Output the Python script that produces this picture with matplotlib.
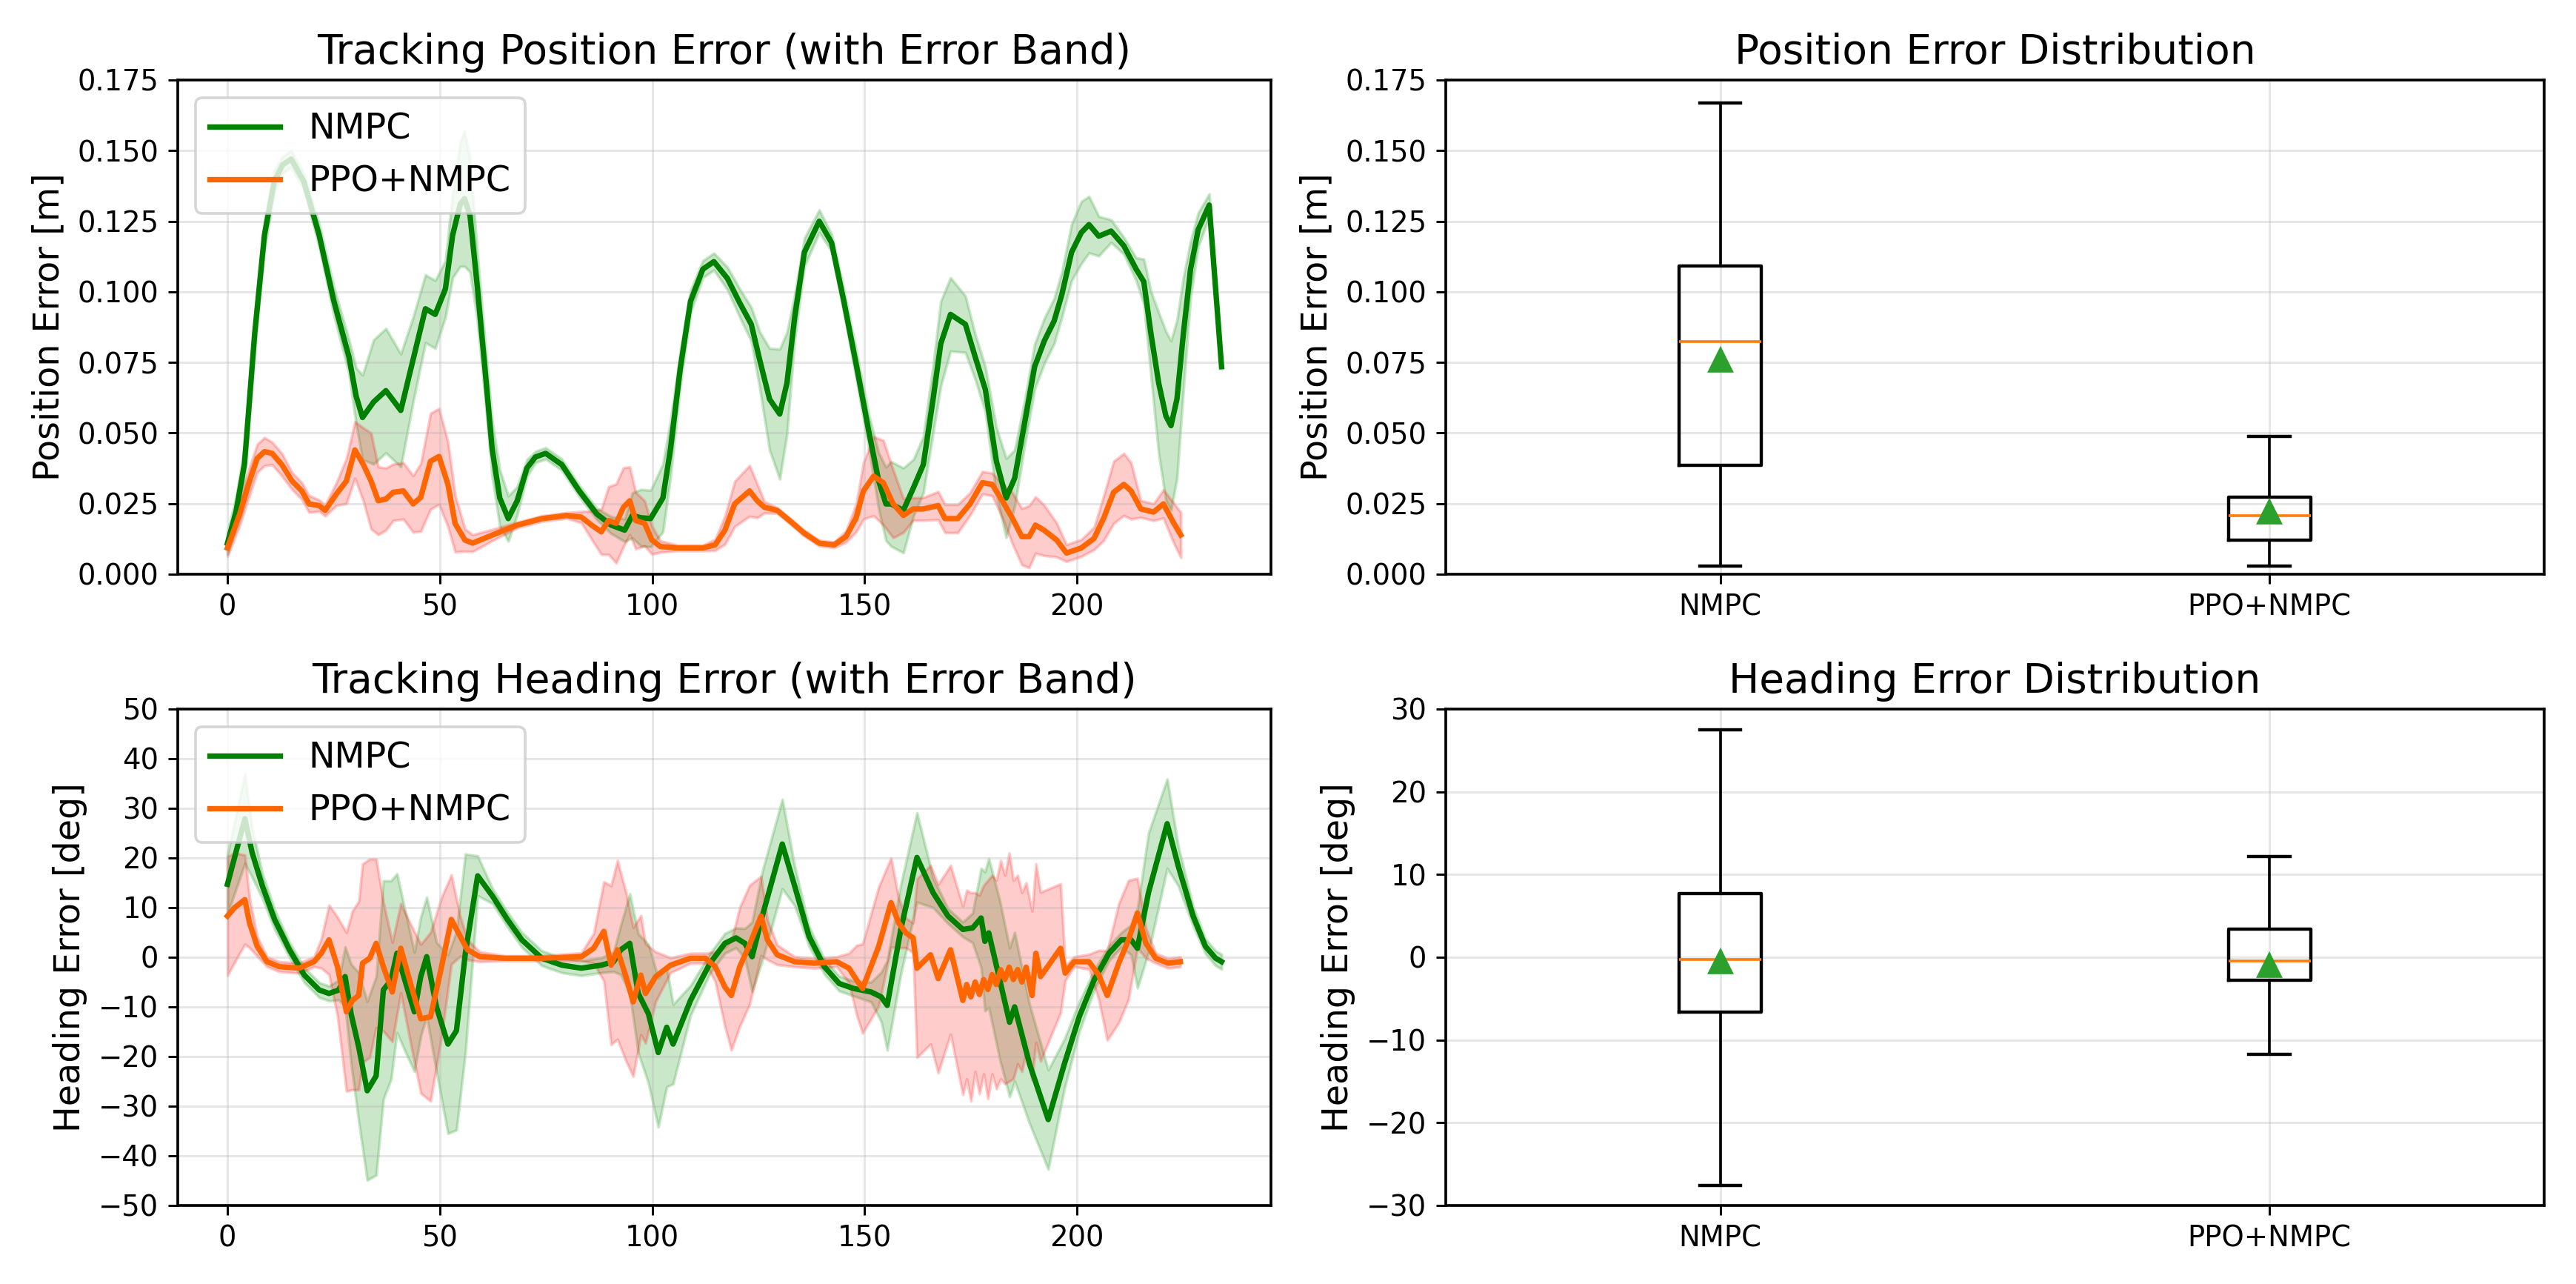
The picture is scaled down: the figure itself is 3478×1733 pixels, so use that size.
import numpy as np
import matplotlib.pyplot as plt

# ---- position error over time (mean and std) ----
pos_nmpc_t = [0, 2, 4, 6.4, 8.7, 11, 13, 15, 18, 21.6, 25, 28.6, 30.3, 31.8, 34.4, 37.3, 40.8, 43.7,
              46.6, 48.9, 51.3, 53, 54.8, 55.8, 57.1, 58.8, 60.6, 62.3, 64.1, 66.1, 68.2, 70.5, 72.5,
              74.9, 78.7, 82.8, 86.9, 90.3, 93.5, 95.3, 97.3, 99.6, 102.5, 104.3, 106.6, 109, 111.9,
              114.5, 117.7, 120.6, 123.3, 125.3, 127.6, 130, 131.7, 133.5, 135.8, 139.3, 142.2, 145.1,
              148.1, 151, 153.3, 155, 156.2, 159.1, 161.5, 163.8, 166.1, 167.9, 170.2, 173.7, 176,
              178.4, 181, 183.3, 185.3, 187.7, 190, 192.3, 194.6, 196.4, 198.7, 201, 202.8, 205.1,
              208, 211, 213.9, 215.7, 217.4, 219.2, 220.9, 222.1, 223.5, 225, 226.7, 228.5, 231.1, 234]
pos_nmpc_mean = [0.011, 0.022, 0.039, 0.085, 0.12, 0.139, 0.145, 0.147, 0.139, 0.12, 0.097, 0.077,
                 0.063, 0.0555, 0.061, 0.065, 0.058, 0.076, 0.094, 0.092, 0.101, 0.12, 0.131, 0.133,
                 0.127, 0.102, 0.073, 0.0445, 0.027, 0.0197, 0.026, 0.0376, 0.0415, 0.0428, 0.0388,
                 0.0295, 0.0214, 0.0174, 0.0156, 0.0208, 0.020, 0.0197, 0.027, 0.0445, 0.073, 0.0966,
                 0.108, 0.1107, 0.1047, 0.096, 0.0885, 0.0758, 0.062, 0.0567, 0.0677, 0.0908, 0.114,
                 0.125, 0.1174, 0.0966, 0.0735, 0.0503, 0.033, 0.0249, 0.0249, 0.0226, 0.0307, 0.0388,
                 0.062, 0.0816, 0.092, 0.0885, 0.077, 0.0654, 0.040, 0.027, 0.034, 0.054, 0.0735,
                 0.0827, 0.0897, 0.099, 0.114, 0.121, 0.1238, 0.1197, 0.1215, 0.1163, 0.108, 0.1036,
                 0.085, 0.0677, 0.056, 0.0526, 0.062, 0.085, 0.108, 0.122, 0.1307, 0.0735]
pos_nmpc_std = [0.004, 0.005, 0.006, 0.006, 0.005, 0.004, 0.003, 0.003, 0.003, 0.004, 0.005, 0.006,
                0.010, 0.015, 0.022, 0.022, 0.020, 0.015, 0.012, 0.012, 0.010, 0.015, 0.022, 0.024,
                0.020, 0.012, 0.010, 0.010, 0.010, 0.008, 0.005, 0.003, 0.002, 0.002, 0.002,
                0.002, 0.002, 0.003, 0.004, 0.008, 0.010, 0.010, 0.012, 0.010, 0.006, 0.004,
                0.003, 0.003, 0.004, 0.005, 0.006, 0.010, 0.018, 0.023, 0.018, 0.008, 0.005,
                0.004, 0.003, 0.004, 0.005, 0.006, 0.010, 0.013, 0.015, 0.015, 0.010, 0.010,
                0.012, 0.015, 0.013, 0.010, 0.008, 0.008, 0.012, 0.014, 0.010, 0.008, 0.008,
                0.008, 0.008, 0.008, 0.010, 0.011, 0.010, 0.007, 0.004, 0.003, 0.004, 0.008,
                0.015, 0.025, 0.030, 0.030, 0.028, 0.020, 0.010, 0.006, 0.004, 0.001]

pos_ppo_t = [0, 2.9, 5.2, 7, 8.7, 10.5, 12.8, 15.2, 17.5, 19.2, 21.6, 23, 25.6, 28, 30, 32, 33.8,
             35.5, 37.3, 39, 41.4, 43.7, 45.5, 47.8, 49.8, 51.9, 53.6, 55.9, 57.7, 62.4, 68.2, 74,
             79.8, 83.3, 85.7, 88, 89.7, 91.5, 93.2, 94.7, 96.1, 98.2, 99.9, 101.9, 106, 111.9,
             114.8, 117.1, 119.4, 122.9, 124.7, 126.4, 129.4, 132.3, 135.8, 139.3, 142.8, 145.6,
             148, 149.7, 152.1, 154.4, 156.7, 159.1, 161.4, 163.7, 167.3, 168.9, 171.9, 174.8,
             177.7, 180, 182.4, 184.7, 187, 188.7, 190.2, 192.2, 195.2, 197.5, 201, 204, 206.3,
             208.6, 211, 212.7, 215, 218, 220.3, 222.6, 224.4]
pos_ppo_mean = [0.0093, 0.0214, 0.033, 0.041, 0.0434, 0.0428, 0.0388, 0.033, 0.0295, 0.0249, 0.0243,
                0.0226, 0.0283, 0.033, 0.044, 0.0388, 0.033, 0.026, 0.0266, 0.029, 0.0295, 0.0249,
                0.0272, 0.040, 0.0417, 0.0318, 0.0179, 0.0121, 0.011, 0.0139, 0.0174, 0.0197,
                0.0208, 0.0202, 0.0174, 0.015, 0.019, 0.018, 0.0237, 0.026, 0.019, 0.018, 0.0121,
                0.0098, 0.0093, 0.0093, 0.0104, 0.0156, 0.0249, 0.0295, 0.026, 0.0237, 0.0226,
                0.019, 0.0145, 0.011, 0.0104, 0.0133, 0.020, 0.0295, 0.0347, 0.0324, 0.0249,
                0.0208, 0.0231, 0.0231, 0.0243, 0.0197, 0.0197, 0.0249, 0.0324, 0.0318, 0.026,
                0.020, 0.0133, 0.0133, 0.0174, 0.0156, 0.0121, 0.0075, 0.0093, 0.0127, 0.020,
                0.029, 0.0318, 0.0295, 0.0231, 0.022, 0.0249, 0.0185, 0.0139]
pos_ppo_std = [0.003, 0.004, 0.005, 0.005, 0.005, 0.004, 0.004, 0.003, 0.003, 0.003, 0.002, 0.002,
               0.004, 0.008, 0.010, 0.013, 0.017, 0.012, 0.011, 0.010, 0.010, 0.010, 0.012, 0.017,
               0.017, 0.015, 0.010, 0.004, 0.003, 0.002, 0.001, 0.001, 0.001, 0.002, 0.005, 0.008,
               0.012, 0.014, 0.014, 0.012, 0.010, 0.008, 0.005, 0.002, 0.001, 0.001, 0.002, 0.005,
               0.008, 0.009, 0.006, 0.002, 0.001, 0.001, 0.001, 0.001, 0.001, 0.002, 0.005, 0.010,
               0.014, 0.015, 0.012, 0.006, 0.004, 0.004, 0.005, 0.005, 0.005, 0.004, 0.004, 0.004,
               0.006, 0.009, 0.010, 0.011, 0.010, 0.009, 0.006, 0.003, 0.003, 0.004, 0.008, 0.011,
               0.011, 0.010, 0.003, 0.003, 0.005, 0.007, 0.008]

# ---- heading error over time ----
head_nmpc_t = [0, 4.1, 5.8, 8.2, 11.1, 14.6, 18.1, 21.6, 23.9, 26.2, 27.7, 29.1, 30.9, 32.9, 35, 36.7,
               38.5, 39.9, 42, 44, 45.5, 46.9, 49.2, 51.9, 53.9, 56, 58.9, 62.4, 65.9, 69.3, 74,
               78.7, 83.3, 88, 90.9, 92.6, 94.7, 96.7, 99.1, 101.4, 103.4, 104.9, 109, 113.6, 117.1,
               119.7, 121.8, 123.5, 125.9, 130.6, 133.5, 136.9, 140.5, 144, 147.4, 151.5, 153.9,
               155.3, 158.5, 162.3, 166.1, 169.6, 173.1, 175.4, 177.4, 178.3, 179.2, 181.8, 184.1,
               185.3, 188.8, 193.2, 197, 200.5, 204, 207.5, 210.4, 212.7, 214.2, 216.8, 221.2,
               223.8, 227.3, 230.2, 232.6, 234]
head_nmpc_mean = [14.7, 27.9, 21.1, 14.4, 7.6, 1.5, -3.6, -6.6, -7.3, -6.6, -3.9, -11.4, -18.1, -26.9,
                  -23.9, -6.6, -4.6, 0.8, -5.3, -11, -3.9, 0.1, -10, -17.5, -14.8, 0.8, 16.4, 12.3,
                  7.6, 3.5, -0.2, -1.6, -2.2, -1.6, -0.9, 1.5, 2.8, -7.3, -11.4, -19.2, -14.1, -17.5,
                  -8.7, -1.2, 2.8, 3.9, 2.8, 0.1, 8.3, 22.8, 14.4, 4.2, -1.9, -5.3, -6.3, -7, -8,
                  -9.7, 5.6, 20.1, 13, 8.3, 5.6, 5.9, 7.9, 3.2, 4.9, -4.6, -13.1, -10, -21.5, -32.7,
                  -21.5, -12, -4.6, 0.8, 3.5, 3.5, 1.8, 13, 26.9, 18.4, 8.3, 2.2, -0.2, -0.9]
head_nmpc_std = [6, 9, 5, 2.5, 2, 1.5, 1.5, 1.5, 1.5, 2, 6, 10, 15, 18, 20, 22, 20, 16, 14, 12, 12, 12,
                 13, 18, 20, 20, 4, 1.5, 1.5, 1.5, 1.5, 1.5, 1.5, 1.5, 2, 5, 10, 12, 14, 15, 12, 8,
                 3, 2, 2, 2, 3, 7, 9, 9, 4, 2, 1.5, 1.5, 1.5, 2, 5, 9, 9, 9, 3, 1.5, 1.5, 3, 10, 14,
                 15, 16, 15, 15, 12, 10, 5, 3, 2, 1.5, 1.5, 3, 8, 12, 9, 4, 2, 1.5, 1.5, 1.5]

head_ppo_t = [0, 1.7, 4.1, 5.2, 7, 9.3, 12.2, 16.9, 20.4, 22.1, 23.9, 25.9, 28, 29.4, 30.9, 31.8, 33.5,
              35, 36.7, 38.8, 40.8, 43.1, 45.5, 47.8, 50.4, 52.7, 54.8, 56.5, 59.4, 65.3, 74, 83.3,
              86.2, 88.6, 90.3, 91.8, 93.8, 95.5, 97.3, 98.4, 100.8, 104.3, 109, 112.5, 114.8, 117.1,
              118.6, 120.6, 122.9, 125.6, 127.1, 129.4, 133.5, 138.1, 143.4, 146.3, 148.1, 149.5,
              153.3, 156.2, 158, 159.7, 161.4, 162.3, 165.5, 167.3, 170.2, 173.1, 174, 175, 176,
              177, 178, 179, 180, 181, 182, 183, 184, 185, 186, 187, 188, 189.4, 190.3, 191.4,
              196.1, 197.2, 199.3, 202.8, 205.1, 207.1, 209.8, 212.1, 214.2, 216.2, 218.5, 221.4,
              224.3]
head_ppo_mean = [8.3, 10, 11.6, 6.9, 2.2, -0.9, -1.9, -2.2, -0.9, 0.8, 3.5, -1.9, -11, -8.7, -7.7,
                 -1.2, -0.2, 2.8, -1.9, -7, 1.8, -5.3, -12.4, -12, -1.9, 7.6, 4.2, 1.5, 0.1, -0.2,
                 -0.2, 0.1, 1.8, 5.2, -1.6, 1.5, -3.9, -9, -3.6, -7.3, -3.9, -1.6, -0.2, -0.2, -1.9,
                 -6, -7.7, -1.9, 2.5, 8.3, 3.5, 0.5, -0.9, -1.2, -0.9, -2.2, -4.6, -6.3, 2.2, 11,
                 6.9, 4.9, 3.9, -2.2, 0.5, -4.3, 1.5, -8.7, -5.5, -8, -5, -7.5, -4.5, -6.5, -3.5,
                 -5.5, -2.5, -4.5, -2, -4.5, -2.5, -5, -2, -7.7, 0.8, -3.9, 1.8, -3.2, -0.9, -0.9,
                 -3.6, -7.7, -1.2, 3.5, 8.9, 2.8, -0.2, -1.2, -0.9]
head_ppo_std = [12, 11, 9, 5, 2, 1, 1, 1, 1, 3, 7, 10, 16, 18, 19, 20, 20, 17, 13, 10, 9, 12, 15, 17,
                14, 9, 4, 2, 1, 0.5, 0.5, 0.8, 3, 10, 16, 18, 17, 15, 12, 10, 5, 1.5, 1, 1, 3, 8, 11,
                12, 12, 8, 4, 2, 1, 1, 1, 3, 7, 9, 12, 9, 5, 3, 3, 18, 18, 19, 17, 19, 19, 21, 18, 20,
                19, 22, 20, 21, 22, 21, 23, 20, 19, 18, 17, 17, 18, 17, 13, 1.5, 1, 1.5, 5, 9, 12,
                12, 7, 3, 1, 1, 1]

# ---- box plot summaries ----
box_labels = ['NMPC', 'PPO+NMPC']
pos_whislo = [0.003, 0.0028]
pos_q1 = [0.0385, 0.012]
pos_med = [0.0825, 0.0208]
pos_mean = [0.0759, 0.022]
pos_q3 = [0.1091, 0.0273]
pos_whishi = [0.1669, 0.0489]

head_whislo = [-27.6, -11.7]
head_q1 = [-6.6, -2.8]
head_med = [-0.3, -0.45]
head_mean = [-0.5, -1.0]
head_q3 = [7.7, 3.4]
head_whishi = [27.5, 12.2]

GREEN = 'green'
ORANGE = '#FF6600'

plt.rcParams['font.family'] = 'DejaVu Sans'
plt.rcParams['xtick.labelsize'] = 10.5
plt.rcParams['ytick.labelsize'] = 10.5
plt.rcParams['axes.linewidth'] = 1.0

fig = plt.figure(figsize=(3478 / 264, 1733 / 264), dpi=264)
ax1 = fig.add_axes([0.069, 0.5528, 0.4245, 0.3849])
ax2 = fig.add_axes([0.5612, 0.5528, 0.4264, 0.3849])
ax3 = fig.add_axes([0.069, 0.0612, 0.4245, 0.3866])
ax4 = fig.add_axes([0.5612, 0.0612, 0.4264, 0.3866])


def band_plot(ax, t, mean, std, color, band_color, band_alpha, label):
    t = np.array(t)
    mean = np.array(mean)
    std = np.array(std)
    ax.plot(t, mean, color=color, lw=2, label=label)
    ax.fill_between(t, mean - std, mean + std, color=band_color, alpha=band_alpha)


# Tracking position error
band_plot(ax1, pos_nmpc_t, pos_nmpc_mean, pos_nmpc_std, GREEN, 'tab:green', 0.25, 'NMPC')
band_plot(ax1, pos_ppo_t, pos_ppo_mean, pos_ppo_std, ORANGE, 'red', 0.2, 'PPO+NMPC')
ax1.set_ylim(0, 0.175)
ax1.set_title('Tracking Position Error (with Error Band)', fontsize=15)
ax1.set_ylabel('Position Error [m]', fontsize=13)
ax1.legend(loc='upper left', fontsize=13)
ax1.grid(True, alpha=0.3)

# Tracking heading error
band_plot(ax3, head_nmpc_t, head_nmpc_mean, head_nmpc_std, GREEN, 'tab:green', 0.25, 'NMPC')
band_plot(ax3, head_ppo_t, head_ppo_mean, head_ppo_std, ORANGE, 'red', 0.2, 'PPO+NMPC')
ax3.set_ylim(-50, 50)
ax3.set_yticks(np.arange(-50, 51, 10))
ax3.set_title('Tracking Heading Error (with Error Band)', fontsize=15)
ax3.set_ylabel('Heading Error [deg]', fontsize=13)
ax3.legend(loc='upper left', fontsize=13)
ax3.grid(True, alpha=0.3)


def box_stats(lo, q1, med, mean, q3, hi):
    stats = []
    for i in range(len(box_labels)):
        stats.append({'label': box_labels[i], 'whislo': lo[i], 'q1': q1[i], 'med': med[i],
                      'mean': mean[i], 'q3': q3[i], 'whishi': hi[i], 'fliers': []})
    return stats


mean_style = dict(marker='^', markerfacecolor='tab:green', markeredgecolor='tab:green', markersize=8)
box_style = dict(linewidth=1.2)

# Position error distribution
ax2.bxp(box_stats(pos_whislo, pos_q1, pos_med, pos_mean, pos_q3, pos_whishi),
        showmeans=True, meanprops=mean_style, widths=0.15, boxprops=box_style, capprops=box_style)
ax2.set_xlim(0.5, 2.5)
ax2.set_ylim(0, 0.175)
ax2.set_title('Position Error Distribution', fontsize=15)
ax2.set_ylabel('Position Error [m]', fontsize=13)
ax2.grid(True, alpha=0.3)

# Heading error distribution
ax4.bxp(box_stats(head_whislo, head_q1, head_med, head_mean, head_q3, head_whishi),
        showmeans=True, meanprops=mean_style, widths=0.15, boxprops=box_style, capprops=box_style)
ax4.set_xlim(0.5, 2.5)
ax4.set_ylim(-30, 30)
ax4.set_yticks(np.arange(-30, 31, 10))
ax4.set_title('Heading Error Distribution', fontsize=15)
ax4.set_ylabel('Heading Error [deg]', fontsize=13)
ax4.grid(True, alpha=0.3)

fig.savefig('out.png', dpi=264)
